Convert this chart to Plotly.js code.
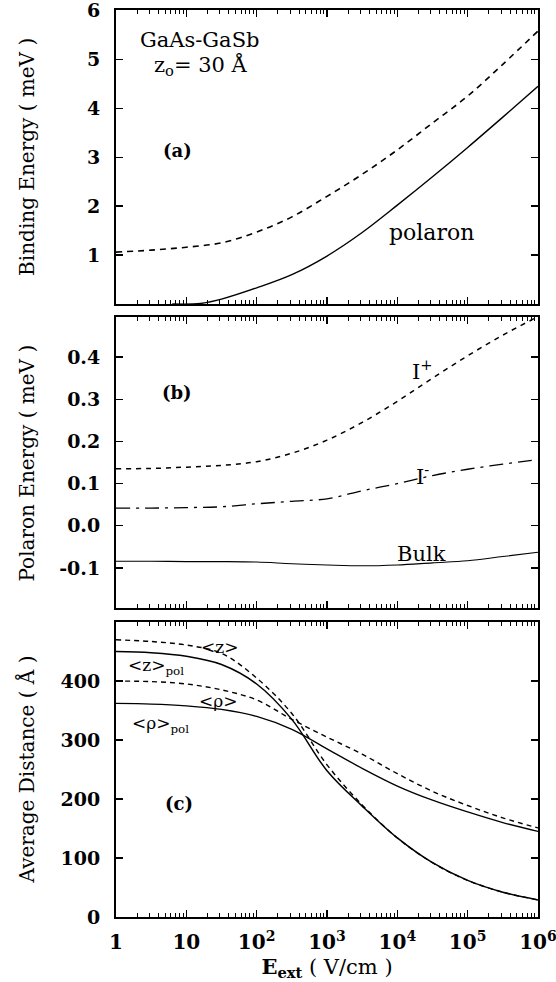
<!DOCTYPE html>
<html>
<head>
<meta charset="utf-8">
<script src="https://cdn.plot.ly/plotly-3.0.1.min.js"></script>
<style>html,body{margin:0;padding:0;background:#fff;}#chart{width:556px;height:982px;}</style>
</head>
<body>
<div id="chart"></div>
<script>
// Field values (V/cm), log-spaced sample points
const fieldExp = [0, 0.5, 1, 1.5, 2, 2.5, 3, 3.5, 4, 4.5, 5, 5.5, 6];
const field = fieldExp.map(e => Math.pow(10, e));

// Panel (a): binding energy (meV)
const bindNoPol = [1.06, 1.10, 1.16, 1.25, 1.47, 1.78, 2.20, 2.65, 3.15, 3.70, 4.25, 4.90, 5.58];
const polFieldExp = [0.8, 1.2, 1.5, 2, 2.5, 3, 3.5, 4, 4.5, 5, 5.5, 6];
const polField = polFieldExp.map(e => Math.pow(10, e));
const bindPolaron = [0.0, 0.01, 0.10, 0.33, 0.60, 0.98, 1.46, 2.02, 2.60, 3.20, 3.82, 4.45];

// Panel (b): polaron energy (meV)
const iPlus  = [0.135, 0.136, 0.139, 0.143, 0.152, 0.172, 0.203, 0.245, 0.295, 0.350, 0.403, 0.452, 0.496];
const iMinus = [0.042, 0.042, 0.043, 0.045, 0.052, 0.058, 0.064, 0.083, 0.100, 0.119, 0.134, 0.146, 0.157];
const bulk   = [-0.084, -0.084, -0.085, -0.085, -0.086, -0.090, -0.093, -0.095, -0.093, -0.088, -0.083, -0.073, -0.063];

// Panel (c): average distance (Å)
const zAvg    = [470, 467, 461, 447, 405, 345, 258, 190, 134, 92, 62, 42, 29];
const zPol    = [450, 448, 442, 428, 395, 335, 248, 188, 134, 92, 62, 42, 29];
const rhoAvg  = [400, 399, 395, 385, 368, 335, 305, 276, 243, 213, 189, 168, 151];
const rhoPol  = [362, 361, 358, 352, 340, 318, 285, 252, 222, 198, 178, 160, 145];

// Tick labels
const xTickVals = [1, 10, 100, 1000, 10000, 100000, 1000000];
const xTickText = ['1', '10', '10<sup>2</sup>', '10<sup>3</sup>', '10<sup>4</sup>', '10<sup>5</sup>', '10<sup>6</sup>'];
const yaTickVals = [1, 2, 3, 4, 5, 6];
const ybTickVals = [-0.1, 0, 0.1, 0.2, 0.3, 0.4];
const ybTickText = ['-0.1', '0.0', '0.1', '0.2', '0.3', '0.4'];
const ycTickVals = [0, 100, 200, 300, 400];

const SERIF = 'DejaVu Serif, Liberation Serif, serif';
const line = (w, dash) => ({color: '#000', width: w, dash: dash || 'solid', shape: 'spline', smoothing: 1});

const traces = [
  {x: field, y: bindNoPol, xaxis: 'x', yaxis: 'y', mode: 'lines', line: line(1.6, '6px,5px')},
  {x: polField, y: bindPolaron, xaxis: 'x', yaxis: 'y', mode: 'lines', line: line(1.4)},
  {x: field, y: iPlus, xaxis: 'x2', yaxis: 'y2', mode: 'lines', line: line(1.5, '5px,5px')},
  {x: field, y: iMinus, xaxis: 'x2', yaxis: 'y2', mode: 'lines', line: line(1.3, '14px,6px,3px,6px')},
  {x: field, y: bulk, xaxis: 'x2', yaxis: 'y2', mode: 'lines', line: line(1.1)},
  {x: field, y: zAvg, xaxis: 'x3', yaxis: 'y3', mode: 'lines', line: line(1.4, '5px,4px')},
  {x: field, y: zPol, xaxis: 'x3', yaxis: 'y3', mode: 'lines', line: line(1.5)},
  {x: field, y: rhoAvg, xaxis: 'x3', yaxis: 'y3', mode: 'lines', line: line(1.4, '5px,4px')},
  {x: field, y: rhoPol, xaxis: 'x3', yaxis: 'y3', mode: 'lines', line: line(1.3)}
];

function xAxis(anchor, showLabels) {
  return {
    type: 'log', range: [0, 6], anchor: anchor, domain: [0, 1],
    showline: true, linecolor: '#000', linewidth: 2, mirror: 'allticks',
    ticks: 'inside', ticklen: 7, tickwidth: 1.4, tickcolor: '#000',
    tickmode: 'array', tickvals: xTickVals, ticktext: xTickText,
    showticklabels: showLabels, showgrid: false, zeroline: false,
    tickfont: {family: SERIF, size: 20, color: '#000', weight: 'bold'},
    ticklabelstandoff: 6, ticklabeloverflow: 'allow',
    minor: {dtick: 'D1', ticks: 'inside', ticklen: 4, tickwidth: 1, tickcolor: '#000', showgrid: false}
  };
}
function yAxis(anchor, domain, range, vals, text) {
  const ax = {
    anchor: anchor, domain: domain, range: range,
    showline: true, linecolor: '#000', linewidth: 2, mirror: 'ticks',
    ticks: 'inside', ticklen: 7, tickwidth: 1.4, tickcolor: '#000',
    tickmode: 'array', tickvals: vals,
    showgrid: false, zeroline: false,
    tickfont: {family: SERIF, size: 19, color: '#000', weight: 'bold'},
    ticklabelstandoff: 10, ticklabeloverflow: 'allow'
  };
  if (text) ax.ticktext = text;
  return ax;
}

const ann = (xe, y, xr, yr, text, size, opts) => Object.assign({
  x: xe, y: y, xref: xr, yref: yr, text: text, showarrow: false,
  font: {family: SERIF, size: size, color: '#000'}, xanchor: 'center', yanchor: 'middle'
}, opts || {});
const boldAnn = (xe, y, xr, yr, text) => ann(xe, y, xr, yr, text, 18,
  {font: {family: SERIF, size: 18, color: '#000', weight: 'bold'}});
const yTitle = (yc, text) => ({
  x: -0.211, y: yc, xref: 'paper', yref: 'paper', text: text, showarrow: false, textangle: -90,
  font: {family: SERIF, size: 20, color: '#000'}, xanchor: 'center', yanchor: 'middle'
});

const layout = {
  width: 556, height: 982,
  margin: {l: 116, r: 18, t: 10, b: 65},
  paper_bgcolor: '#fff', plot_bgcolor: '#fff',
  showlegend: false,
  xaxis: xAxis('y', false),
  xaxis2: xAxis('y2', false),
  xaxis3: Object.assign(xAxis('y3', true), {
    title: {text: '<b>E<sub>ext</sub></b> ( V/cm )', font: {family: SERIF, size: 21, color: '#000'}, standoff: 2}}),
  yaxis: yAxis('x', [0.6759, 1], [0, 6.01], yaTickVals),
  yaxis2: yAxis('x2', [0.3407, 0.6615], [-0.195, 0.495], ybTickVals, ybTickText),
  yaxis3: yAxis('x3', [0, 0.3252], [0, 500], ycTickVals),
  annotations: [
    yTitle(0.838, 'Binding Energy ( meV )'),
    yTitle(0.501, 'Polaron Energy ( meV )'),
    yTitle(0.1626, 'Average Distance ( Å )'),
    ann(1.19, 5.40, 'x', 'y', 'GaAs-GaSb', 21),
    ann(1.21, 4.87, 'x', 'y', 'z<sub>o</sub>= 30 Å', 21),
    boldAnn(0.87, 3.14, 'x', 'y', '(a)'),
    ann(4.49, 1.47, 'x', 'y', 'polaron', 22),
    boldAnn(0.87, 0.315, 'x2', 'y2', '(b)'),
    ann(4.36, 0.369, 'x2', 'y2', 'I<sup>+</sup>', 21),
    ann(4.36, 0.120, 'x2', 'y2', 'I<sup>-</sup>', 21),
    ann(4.34, -0.066, 'x2', 'y2', 'Bulk', 21),
    boldAnn(0.89, 193, 'x3', 'y3', '(c)'),
    ann(1.47, 458, 'x3', 'y3', '&lt;z&gt;', 17),
    ann(0.57, 424, 'x3', 'y3', '&lt;z&gt;<sub>pol</sub>', 17),
    ann(1.45, 367, 'x3', 'y3', '&lt;ρ&gt;', 17),
    ann(0.63, 327, 'x3', 'y3', '&lt;ρ&gt;<sub>pol</sub>', 17)
  ]
};

Plotly.newPlot('chart', traces, layout, {staticPlot: true, displayModeBar: false});
</script>
</body>
</html>
